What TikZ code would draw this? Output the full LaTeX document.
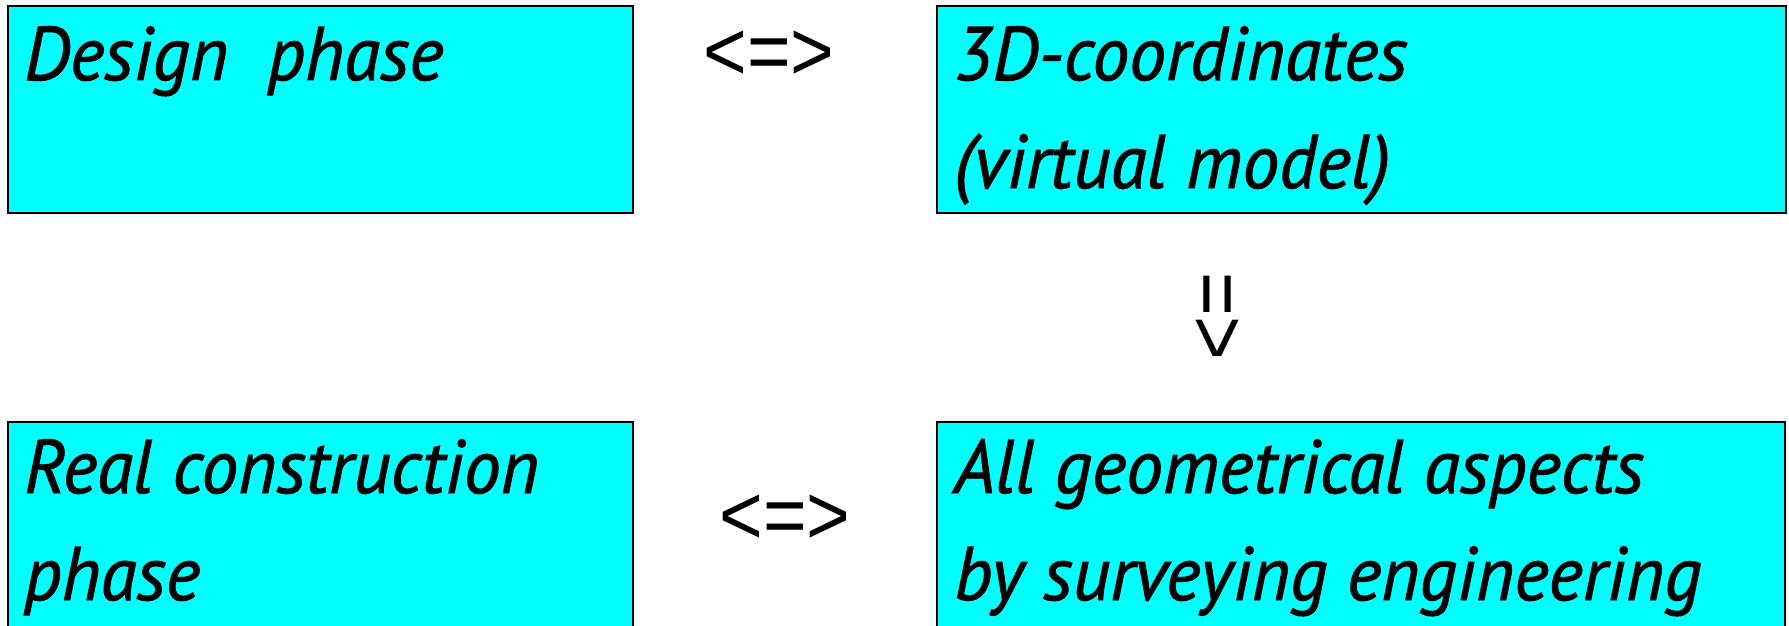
\documentclass[tikz,border=0pt]{standalone}
\usepackage{fontspec}
\newfontfamily\boxfont{PT Sans}[FakeStretch=0.97,FakeBold=1.2]
\newfontfamily\symfont{Liberation Sans}[FakeStretch=0.88]
\definecolor{boxcyan}{RGB}{0,255,255}
\begin{document}
\begin{tikzpicture}[x=1pt,y=-1pt,
  box/.style={draw=black, line width=2.5pt, fill=boxcyan, inner sep=0pt, outer sep=0pt, anchor=north west},
  lbl/.style={anchor=base west, inner sep=0pt, font=\boxfont\itshape\fontsize{76}{90}\selectfont},
  rel/.style={inner sep=0pt, font=\symfont\fontsize{85}{100}\selectfont}]
\useasboundingbox (0,0) rectangle (1789,626);
\begin{scope}
\clip (0,0) rectangle (1789,626);
\node[box, minimum width=625pt, minimum height=207pt] (design) at (8,6) {};
\node[box, minimum width=849pt, minimum height=207pt] (coords) at (937,6) {};
\node[box, minimum width=625pt, minimum height=218pt] (real) at (8,422) {};
\node[box, minimum width=848pt, minimum height=218pt] (geom) at (937,422) {};
\end{scope}
\node[lbl] (t1) at (24,80) {Design\ \ phase};
\node[lbl] (t2a) at (954,80) {3D-coordinates};
\node[lbl] (t2b) at (954,188) {(virtual model)};
\node[lbl] (t3a) at (24,493) {Real construction};
\node[lbl] (t3b) at (24,600) {phase};
\node[lbl] (t4a) at (954,493) {All geometrical aspects};
\node[lbl] (t4b) at (954,600) {by surveying engineering};
\node[rel] (eq1) at (769,56) {<=>};
\node[rel] (eq2) at (785,520) {<=>};
\node[rel, rotate=-90] (eq3) at (1214,316) {=>};
\end{tikzpicture}
\end{document}
